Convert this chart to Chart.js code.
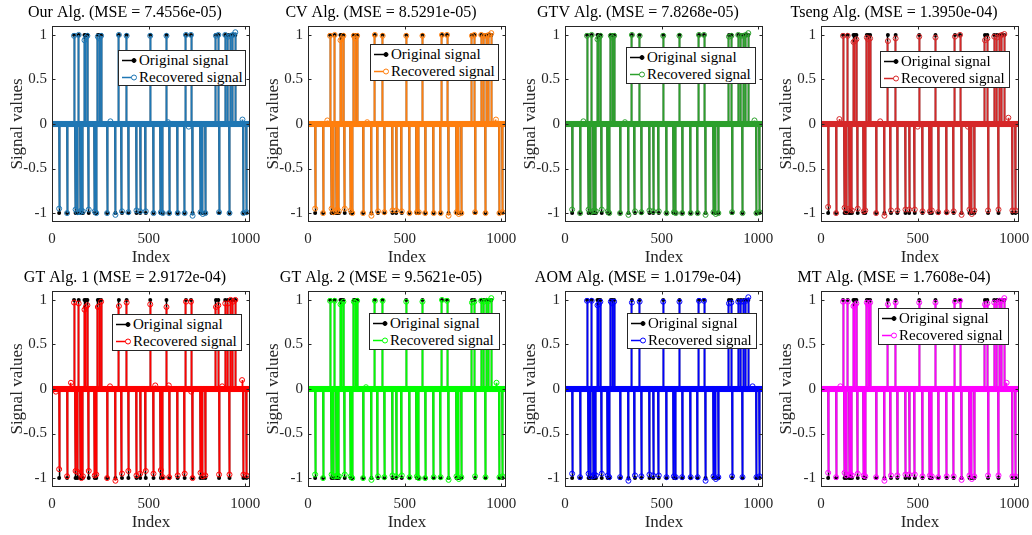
<!DOCTYPE html>
<html><head><meta charset="utf-8">
<script src="https://cdn.jsdelivr.net/npm/chart.js@4"></script>
<style>
body{margin:0;background:#fff;width:1032px;height:535px;position:relative;overflow:hidden;font-family:'Liberation Serif',serif}
canvas{position:absolute}
.lg{position:absolute;box-sizing:border-box;border:1px solid #262626;background:#fff;font:15px 'Liberation Serif',serif;color:#000;z-index:5}
.row{position:absolute;left:2px;height:18px;line-height:18px;white-space:nowrap}
.row svg{vertical-align:top;margin-right:2px}
</style></head><body>
<script>
// ---- data ----
const N = 1024;
const spikeIdx = [37,78,114,122,131,138,145,152,160,168,175,183,190,221,229,237,244,254,285,328,346,362,386,395,437,456,485,508,525,563,573,592,606,650,686,693,719,727,768,780,793,848,860,864,896,910,918,924,936,948,990,1006];
const spikeSign = [-1,-1,1,-1,-1,1,-1,-1,-1,1,1,1,-1,-1,-1,1,1,1,-1,-1,1,-1,1,-1,-1,-1,-1,1,-1,-1,-1,1,-1,-1,-1,1,1,-1,-1,-1,-1,1,1,-1,1,1,-1,1,1,1,-1,-1];
const titles = ['Our Alg. (MSE = 7.4556e-05)','CV Alg. (MSE = 8.5291e-05)','GTV Alg. (MSE = 7.8268e-05)','Tseng Alg. (MSE = 1.3950e-04)','GT Alg. 1 (MSE = 2.9172e-04)','GT Alg. 2 (MSE = 9.5621e-05)','AOM Alg. (MSE = 1.0179e-04)','MT Alg. (MSE = 1.7608e-04)'];
const colors = ['#1f77b4','#ff7f0e','#2ca02c','#d62728','#ff0000','#00ff00','#0000ff','#ff00ff'];
const xTicks = [0,500,1000];
const yTicks = [-1,-0.5,0,0.5,1];

const recOur = [-0.95,-1.00,0.99,-0.96,-0.99,1.00,-0.99,-0.97,-0.98,0.94,0.97,0.99,-0.96,-0.98,-1.00,0.98,0.96,0.99,-1.00,-1.02,1.00,-0.98,0.99,-0.99,-0.97,-0.98,-0.98,0.99,-1.00,-0.99,-1.00,0.99,-1.00,-1.00,-1.00,1.00,1.00,-1.03,-0.99,-1.01,-1.00,0.99,1.00,-0.99,1.00,0.98,-1.00,0.99,1.00,1.03,-1.00,-0.99];
const recCV = [-0.95,-1.00,0.99,-0.95,-0.99,1.00,-0.98,-0.96,-0.98,0.94,0.96,0.99,-0.95,-0.97,-1.00,0.99,0.96,0.99,-1.00,-1.03,1.00,-0.98,0.99,-0.99,-0.97,-0.97,-0.98,0.99,-1.00,-0.99,-0.99,0.99,-1.00,-1.00,-1.00,1.00,1.00,-1.03,-0.99,-1.01,-1.00,0.99,1.00,-0.99,1.00,0.99,-1.00,0.99,1.00,1.02,-1.00,-0.99];
const recGTV = [-0.96,-1.00,0.99,-0.96,-0.99,1.00,-0.98,-0.97,-0.98,0.95,0.97,0.99,-0.96,-0.98,-1.00,0.99,0.97,0.99,-1.00,-1.02,1.00,-0.98,0.99,-0.99,-0.97,-0.98,-0.98,0.99,-1.00,-0.99,-1.00,0.99,-1.00,-1.00,-1.00,1.00,1.00,-1.02,-0.99,-1.01,-1.00,0.98,0.99,-0.99,1.00,0.99,-1.00,0.99,1.00,1.02,-1.00,-0.99];
const recTseng = [-0.93,-1.00,0.99,-0.94,-0.98,0.99,-0.95,-0.96,-0.97,0.92,0.93,0.95,-0.95,-0.98,-0.97,0.97,0.95,0.96,-1.00,-1.03,0.93,-0.97,0.96,-0.97,-0.96,-0.96,-0.96,0.98,-0.98,-0.98,-0.97,0.97,-0.99,-0.99,-0.98,0.98,1.00,-1.02,-0.96,-1.01,-0.97,0.94,0.96,-0.97,0.98,0.97,-0.96,0.99,1.00,1.01,-0.97,-0.97];
const recGT1 = [-0.90,-0.98,0.97,-0.92,-0.93,0.96,-0.95,-1.00,-0.98,0.89,0.92,0.94,-0.92,-0.97,-0.96,0.92,0.93,0.98,-1.00,-1.03,0.93,-0.95,0.97,-0.92,-0.97,-0.95,-0.92,0.95,-0.95,-0.91,-0.99,0.92,-0.99,-0.97,-0.95,0.98,0.98,-1.00,-0.94,-0.98,-0.97,0.92,0.94,-0.96,0.96,0.96,-0.96,1.00,0.98,1.00,-0.96,-0.97];
const recGT2 = [-0.96,-1.00,0.99,-0.96,-0.98,0.99,-0.98,-0.97,-0.98,0.95,0.96,0.98,-0.96,-0.98,-1.00,0.98,0.97,0.99,-1.00,-1.02,0.99,-0.98,0.99,-0.99,-0.97,-0.98,-0.97,0.98,-0.99,-0.98,-1.00,0.98,-1.00,-0.99,-0.99,1.00,0.99,-1.02,-0.98,-1.01,-0.99,0.97,0.98,-0.98,0.99,0.98,-0.99,0.99,0.99,1.02,-0.99,-0.98];
const recAOM = [-0.95,-0.99,0.99,-0.95,-0.98,0.99,-0.98,-0.96,-0.97,0.94,0.95,0.98,-0.95,-0.97,-0.99,0.98,0.96,0.98,-0.99,-1.03,0.97,-0.97,0.98,-0.98,-0.96,-0.97,-0.97,0.98,-0.99,-0.98,-0.99,0.98,-0.99,-0.99,-0.99,0.99,0.99,-1.03,-0.98,-1.01,-0.99,0.96,0.97,-0.98,0.98,0.98,-0.99,0.98,0.99,1.03,-0.99,-0.98];
const recMT = [-0.94,-0.99,0.98,-0.94,-0.97,0.98,-0.96,-0.96,-0.97,0.93,0.94,0.96,-0.95,-0.97,-0.98,0.97,0.95,0.97,-0.99,-1.03,0.95,-0.97,0.97,-0.97,-0.96,-0.96,-0.96,0.97,-0.98,-0.97,-0.98,0.97,-0.99,-0.98,-0.98,0.98,0.99,-1.02,-0.97,-1.01,-0.98,0.95,0.96,-0.97,0.97,0.97,-0.97,0.99,0.99,1.02,-0.98,-0.98];

const noiseOurIdx = [302,600,707,985], noiseOurVal = [0.03,0.02,-0.03,0.05];
const noiseCVIdx = [100,306,972], noiseCVVal = [0.04,0.02,0.05];
const noiseGTVIdx = [95,310,980], noiseGTVVal = [0.03,0.02,0.04];
const noiseTsengIdx = [95,306,500,760,969], noiseTsengVal = [0.055,0.03,-0.03,-0.03,0.07];
const noiseGT1Idx = [20,98,300,534,604,720,880,983], noiseGT1Val = [-0.03,0.07,0.03,0.04,0.04,-0.03,0.03,0.1];
const noiseGT2Idx = [300,975], noiseGT2Val = [0.02,0.07];
const noiseAOMIdx = [970], noiseAOMVal = [0.03];
const noiseMTIdx = [100,960], noiseMTVal = [0.03,0.07];

const recAll = [recOur,recCV,recGTV,recTseng,recGT1,recGT2,recAOM,recMT];
const noiseIdxAll = [noiseOurIdx,noiseCVIdx,noiseGTVIdx,noiseTsengIdx,noiseGT1Idx,noiseGT2Idx,noiseAOMIdx,noiseMTIdx];
const noiseValAll = [noiseOurVal,noiseCVVal,noiseGTVVal,noiseTsengVal,noiseGT1Val,noiseGT2Val,noiseAOMVal,noiseMTVal];

// ---- layout ----
const axLeft = [52,308,565,821];
const axTop = [26,291];
const axW = 198, axH = 196;
const legendPos = [[118,50,128,36],[370,44,129,37],[626,47,130,37],[880,51,130,37],[112,314,130,37],[369,313,131,37],[627,313,130,36],[878,308,131,37]];
const FONT = "'Liberation Serif', serif";

function fullSignal(vals, nIdx, nVal){
  const a = new Array(N).fill(0);
  spikeIdx.forEach((k,j)=>{a[k]=vals[j];});
  nIdx.forEach((k,j)=>{a[k]=nVal[j];});
  return a;
}
function stemPts(a){const p=[];a.forEach((v,i)=>{p.push({x:i,y:0},{x:i,y:v},{x:i,y:0});});return p;}
function markPts(a){return a.map((v,i)=>({x:i,y:v}));}

const original = fullSignal(spikeSign, [], []);

const boxPlugin = {
  id:'box',
  afterDraw(chart){
    const {ctx, chartArea:a, scales:{x,y}} = chart;
    ctx.save();
    ctx.strokeStyle='#262626'; ctx.lineWidth=1;
    const L=Math.round(a.left)+0.5,R=Math.round(a.right)-0.5,T=Math.round(a.top)+0.5,B=Math.round(a.bottom)-0.5;
    ctx.strokeRect(L,T,R-L,B-T);
    ctx.beginPath();
    xTicks.forEach(v=>{const px=Math.round(x.getPixelForValue(v))+0.5;ctx.moveTo(px,B);ctx.lineTo(px,B-3);ctx.moveTo(px,T);ctx.lineTo(px,T+3);});
    yTicks.forEach(v=>{const py=Math.round(y.getPixelForValue(v))+0.5;ctx.moveTo(L,py);ctx.lineTo(L+3,py);ctx.moveTo(R,py);ctx.lineTo(R-3,py);});
    ctx.stroke();
    ctx.restore();
  }
};

function sampleSvg(color, filled){
  return `<svg width="16" height="18"><line x1="1" y1="9.5" x2="13" y2="9.5" stroke="${color}" stroke-width="1.5"/><circle cx="13" cy="9.5" r="${filled?2:2.5}" fill="${filled?color:'#fff'}" stroke="${color}" stroke-width="1"/></svg>`;
}

for(let p=0;p<8;p++){
  const col=p%4,row=Math.floor(p/4);
  const cv=document.createElement('canvas');
  const W=52+axW+52, H=26+axH+48;
  cv.width=W;cv.height=H;
  cv.style.left=(axLeft[col]-52)+'px';cv.style.top=(axTop[row]-26)+'px';
  cv.style.width=W+'px';cv.style.height=H+'px';
  document.body.appendChild(cv);
  const rec = fullSignal(recAll[p], noiseIdxAll[p], noiseValAll[p]);
  const color = colors[p];
  new Chart(cv,{
    type:'scatter',
    data:{datasets:[
      {label:'Recovered signal',data:markPts(rec),showLine:false,pointRadius:2.5,pointBorderWidth:1,pointBorderColor:color,pointBackgroundColor:'rgba(0,0,0,0)',order:0},
      {label:'rec stems',data:stemPts(rec),showLine:true,borderColor:color,borderWidth:1.8,pointRadius:0,order:1},
      {label:'Original signal',data:markPts(original),showLine:false,pointRadius:2,pointBorderWidth:0,pointBackgroundColor:'#000',order:2},
      {label:'orig stems',data:stemPts(original),showLine:true,borderColor:'#000',borderWidth:1.5,pointRadius:0,order:3}
    ]},
    options:{
      responsive:false,animation:false,devicePixelRatio:1,
      events:[],
      layout:{padding:{left:0,right:52,top:0,bottom:0}},
      plugins:{
        legend:{display:false},tooltip:{enabled:false},
        title:{display:true,text:titles[p],color:'#000',font:{family:FONT,size:16,lineHeight:1.25,weight:'normal'},padding:{top:3,bottom:3}}
      },
      scales:{
        x:{type:'linear',min:0,max:N,
          afterBuildTicks:s=>{s.ticks=xTicks.map(v=>({value:v}));},
          afterFit:s=>{s.height=48;s.paddingLeft=0;s.paddingRight=0;},
          grid:{display:false,drawTicks:false},border:{display:false},
          ticks:{font:{family:FONT,size:15},color:'#262626',padding:8,maxRotation:0,autoSkip:false,callback:v=>String(v)},
          title:{display:true,text:'Index',color:'#262626',font:{family:FONT,size:17},padding:{top:0,bottom:2}}},
        y:{type:'linear',min:-1.1,max:1.1,
          afterBuildTicks:s=>{s.ticks=yTicks.map(v=>({value:v}));},
          afterFit:s=>{s.width=52;s.paddingTop=0;s.paddingBottom=0;},
          grid:{display:false,drawTicks:false},border:{display:false},
          ticks:{font:{family:FONT,size:15},color:'#262626',padding:5,callback:v=>String(v)},
          title:{display:true,text:'Signal values',color:'#262626',font:{family:FONT,size:17},padding:{top:7,bottom:0}}}
      }
    },
    plugins:[boxPlugin]
  });
  const lp=legendPos[p];
  const lg=document.createElement('div');
  lg.className='lg';
  lg.style.left=lp[0]+'px';lg.style.top=lp[1]+'px';lg.style.width=lp[2]+'px';lg.style.height=lp[3]+'px';
  lg.innerHTML=`<div class="row" style="top:0px">${sampleSvg('#000',true)}Original signal</div><div class="row" style="top:17px">${sampleSvg(color,false)}Recovered signal</div>`;
  document.body.appendChild(lg);
}
</script>
</body></html>
